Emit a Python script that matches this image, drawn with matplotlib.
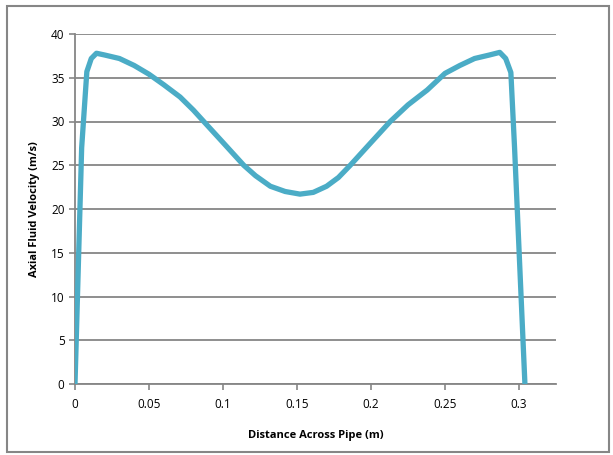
import matplotlib
matplotlib.use("Agg")
import matplotlib.pyplot as plt
from matplotlib.patches import Rectangle

# velocity profile
distance = [0, 0.0045, 0.008, 0.011, 0.0145, 0.02, 0.03, 0.04, 0.05, 0.06,
            0.071, 0.08, 0.087, 0.1, 0.114, 0.122, 0.132, 0.142, 0.152, 0.161,
            0.170, 0.178, 0.186, 0.2, 0.213, 0.225, 0.238, 0.25, 0.26, 0.27,
            0.28, 0.287, 0.291, 0.2945, 0.297, 0.304]
velocity = [0, 27, 35.7, 37.2, 37.8, 37.6, 37.2, 36.4, 35.4, 34.2,
            32.8, 31.3, 30.0, 27.6, 25.0, 23.8, 22.6, 22.0, 21.7, 21.9,
            22.6, 23.6, 25.0, 27.6, 30.0, 31.9, 33.6, 35.5, 36.4, 37.2,
            37.6, 37.9, 37.2, 35.6, 27, 0]
x_ticks = [0, 0.05, 0.1, 0.15, 0.2, 0.25, 0.3]
x_ticklabels = ["0", "0.05", "0.1", "0.15", "0.2", "0.25", "0.3"]
y_ticks = [0, 5, 10, 15, 20, 25, 30, 35, 40]

plt.rcParams['font.family'] = ['Open Sans', 'DejaVu Sans']
grey = '#868686'

fig = plt.figure(figsize=(6.13, 4.55), dpi=100)
ax = fig.add_axes([75/613, 1-384/455, (556-75)/613, (384-34)/455])

# chart border
fig.patches.append(Rectangle((7/613, 3/455), 602/613, 446/455, transform=fig.transFigure,
                             fill=False, edgecolor=grey, linewidth=1.5))

ax.plot(distance, velocity, color='#4BACC6', linewidth=3.8, solid_joinstyle='round', zorder=3)

ax.set_xlim(0, 0.325)
ax.set_ylim(0, 40)
ax.set_xticks(x_ticks)
ax.set_xticklabels(x_ticklabels)
ax.set_yticks(y_ticks)
ax.grid(axis='y', color=grey, linewidth=1.3)
ax.set_axisbelow(True)

for s in ['top', 'right']:
    ax.spines[s].set_visible(False)
for s in ['left', 'bottom']:
    ax.spines[s].set_color(grey)
    ax.spines[s].set_linewidth(1.3)
ax.tick_params(colors=grey, labelcolor='black', labelsize=8.5, length=4, width=1.2, direction='out')
ax.tick_params(axis='x', pad=6)

ax.set_xlabel('Distance Across Pipe (m)', fontsize=8, fontweight='bold', labelpad=14)
ax.set_ylabel('Axial Fluid Velocity (m/s)', fontsize=8, fontweight='bold', labelpad=8)

fig.savefig('out.png', dpi=100)
